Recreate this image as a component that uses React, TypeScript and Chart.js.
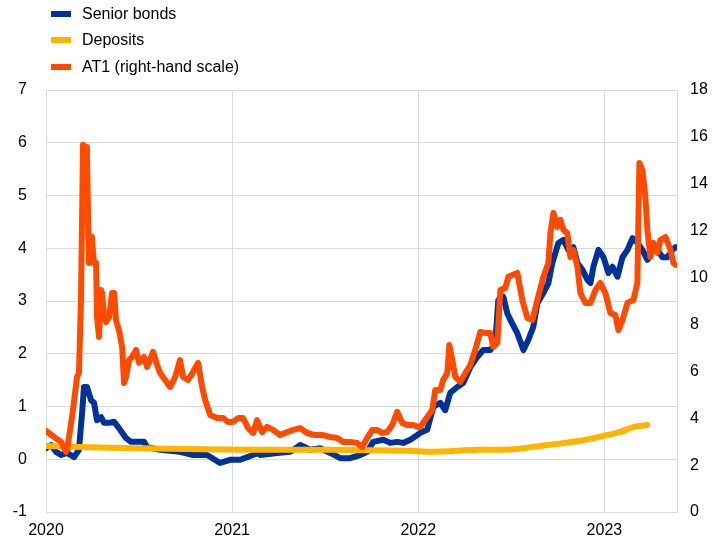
import React, { useEffect, useRef } from "react";
import { Chart, registerables } from "chart.js";

Chart.register(...registerables);

// [decimal year, value in %]
const seniorBonds: [number, number][] = [
  [2020.0, 0.21], [2020.027, 0.27], [2020.054, 0.14], [2020.081, 0.08], [2020.113, 0.12],
  [2020.151, 0.04], [2020.177, 0.18], [2020.194, 0.88], [2020.204, 1.37], [2020.22, 1.37],
  [2020.242, 1.12], [2020.258, 1.07], [2020.274, 0.74], [2020.296, 0.8], [2020.312, 0.69],
  [2020.339, 0.69], [2020.366, 0.71], [2020.392, 0.59], [2020.43, 0.4], [2020.457, 0.33],
  [2020.489, 0.33], [2020.527, 0.33], [2020.543, 0.23], [2020.613, 0.18], [2020.72, 0.14],
  [2020.79, 0.08], [2020.866, 0.08], [2020.935, -0.07], [2020.989, -0.01], [2021.043, -0.01],
  [2021.097, 0.06], [2021.14, 0.12], [2021.151, 0.08], [2021.242, 0.12], [2021.312, 0.14],
  [2021.366, 0.27], [2021.419, 0.18], [2021.473, 0.21], [2021.527, 0.12], [2021.581, 0.02],
  [2021.634, 0.02], [2021.688, 0.08], [2021.726, 0.14], [2021.758, 0.33], [2021.812, 0.37],
  [2021.849, 0.31], [2021.887, 0.33], [2021.919, 0.31], [2021.957, 0.37], [2021.995, 0.46],
  [2022.011, 0.5], [2022.048, 0.56], [2022.081, 0.99], [2022.118, 1.07], [2022.145, 0.93],
  [2022.172, 1.26], [2022.21, 1.37], [2022.242, 1.45], [2022.28, 1.75], [2022.317, 1.94],
  [2022.349, 2.07], [2022.387, 2.07], [2022.414, 2.2], [2022.43, 3.02], [2022.457, 3.08],
  [2022.478, 2.77], [2022.495, 2.64], [2022.532, 2.39], [2022.565, 2.07], [2022.591, 2.26],
  [2022.618, 2.51], [2022.64, 2.96], [2022.672, 3.15], [2022.699, 3.34], [2022.72, 3.72],
  [2022.753, 4.1], [2022.78, 4.16], [2022.806, 3.97], [2022.833, 4.02], [2022.855, 3.72],
  [2022.882, 3.59], [2022.909, 3.4], [2022.925, 3.34], [2022.941, 3.65], [2022.968, 3.97],
  [2022.995, 3.83], [2023.022, 3.53], [2023.043, 3.65], [2023.07, 3.46], [2023.097, 3.83],
  [2023.124, 3.97], [2023.151, 4.19], [2023.177, 4.1], [2023.204, 3.97], [2023.231, 3.78],
  [2023.258, 3.97], [2023.285, 3.97], [2023.312, 3.83], [2023.339, 3.83], [2023.366, 3.97],
  [2023.382, 4.02],
];

const deposits: [number, number][] = [
  [2020.0, 0.25], [2020.183, 0.23], [2020.505, 0.21], [2020.828, 0.19], [2021.097, 0.18],
  [2021.527, 0.18], [2021.957, 0.16], [2022.065, 0.14], [2022.317, 0.18], [2022.511, 0.19],
  [2022.694, 0.27], [2022.871, 0.35], [2023.016, 0.46], [2023.086, 0.52], [2023.156, 0.61],
  [2023.231, 0.65],
];

const at1: [number, number][] = [
  [2020.0, 3.46], [2020.043, 3.2], [2020.081, 2.99], [2020.108, 2.56], [2020.113, 2.65],
  [2020.14, 4.05], [2020.167, 5.76], [2020.177, 5.93], [2020.188, 9.04], [2020.199, 15.66],
  [2020.215, 15.57], [2020.22, 15.15], [2020.231, 10.62], [2020.242, 11.73], [2020.247, 11.6],
  [2020.258, 10.62], [2020.269, 10.62], [2020.274, 8.32], [2020.285, 7.47], [2020.296, 9.47],
  [2020.301, 9.34], [2020.312, 8.32], [2020.323, 8.11], [2020.339, 8.32], [2020.355, 9.34],
  [2020.366, 9.34], [2020.376, 8.19], [2020.392, 7.76], [2020.409, 7.04], [2020.419, 5.5],
  [2020.43, 5.76], [2020.446, 6.48], [2020.462, 6.61], [2020.484, 6.91], [2020.5, 6.36],
  [2020.527, 6.61], [2020.543, 6.19], [2020.559, 6.48], [2020.575, 6.83], [2020.597, 6.27],
  [2020.613, 5.93], [2020.64, 5.63], [2020.667, 5.33], [2020.694, 5.76], [2020.72, 6.48],
  [2020.737, 5.76], [2020.763, 5.63], [2020.79, 5.97], [2020.817, 6.36], [2020.839, 5.33],
  [2020.855, 4.78], [2020.882, 4.14], [2020.919, 4.01], [2020.952, 4.01], [2020.978, 3.84],
  [2021.005, 3.84], [2021.032, 4.01], [2021.059, 4.01], [2021.086, 3.58], [2021.113, 3.37],
  [2021.134, 3.92], [2021.161, 3.41], [2021.188, 3.63], [2021.22, 3.5], [2021.258, 3.28],
  [2021.296, 3.41], [2021.328, 3.5], [2021.366, 3.58], [2021.403, 3.37], [2021.446, 3.28],
  [2021.489, 3.28], [2021.527, 3.2], [2021.565, 3.16], [2021.597, 2.99], [2021.634, 2.99],
  [2021.672, 2.94], [2021.699, 2.77], [2021.726, 3.16], [2021.753, 3.5], [2021.78, 3.5],
  [2021.806, 3.37], [2021.833, 3.41], [2021.86, 3.71], [2021.887, 4.27], [2021.914, 3.8],
  [2021.941, 3.71], [2021.973, 3.71], [2022.0, 3.63], [2022.011, 3.63], [2022.048, 4.05],
  [2022.075, 4.35], [2022.091, 5.2], [2022.118, 5.2], [2022.134, 5.63], [2022.156, 5.93],
  [2022.167, 7.12], [2022.183, 6.48], [2022.199, 5.76], [2022.226, 5.55], [2022.253, 5.93],
  [2022.28, 6.27], [2022.306, 6.91], [2022.333, 7.68], [2022.36, 7.64], [2022.387, 7.64],
  [2022.403, 7.04], [2022.425, 7.21], [2022.441, 9.47], [2022.468, 9.56], [2022.484, 10.03],
  [2022.532, 10.2], [2022.559, 9.04], [2022.586, 8.28], [2022.613, 8.19], [2022.64, 9.04],
  [2022.672, 10.03], [2022.699, 10.62], [2022.71, 11.9], [2022.726, 12.76], [2022.747, 12.16],
  [2022.763, 12.46], [2022.78, 12.03], [2022.801, 11.9], [2022.817, 10.88], [2022.833, 11.18],
  [2022.855, 10.45], [2022.871, 9.34], [2022.898, 8.92], [2022.925, 8.92], [2022.952, 9.47],
  [2022.978, 9.77], [2023.005, 9.34], [2023.032, 8.49], [2023.059, 8.4], [2023.075, 7.76],
  [2023.097, 8.19], [2023.124, 8.92], [2023.156, 9.04], [2023.177, 9.77], [2023.188, 14.89],
  [2023.204, 14.59], [2023.22, 13.44], [2023.231, 12.03], [2023.247, 10.88], [2023.263, 11.48],
  [2023.285, 11.05], [2023.301, 11.6], [2023.328, 11.73], [2023.355, 11.18], [2023.371, 10.62],
  [2023.382, 10.54],
];

const yearTicks = [2020, 2021, 2022, 2023];
const xMin = 2020;
const xMax = 2023.39;

const legendItems = [
  { label: "Senior bonds", color: "#003299" },
  { label: "Deposits", color: "#FFB400" },
  { label: "AT1 (right-hand scale)", color: "#FF4B00" },
];

const FONT = "Arial, 'Liberation Sans', Helvetica, sans-serif";
const GRID = "#d9d9d9";

function toXY(arr: [number, number][]) {
  return arr.map(([x, y]) => ({ x, y }));
}

const lineStyle = {
  borderWidth: 6,
  pointRadius: 0,
  borderJoinStyle: "round" as const,
  borderCapStyle: "round" as const,
};

export default function App() {
  const ref = useRef<HTMLCanvasElement>(null);

  useEffect(() => {
    if (!ref.current) return;
    const chart = new Chart(ref.current, {
      type: "line",
      data: {
        datasets: [
          {
            label: "AT1 (right-hand scale)",
            data: toXY(at1),
            borderColor: "#FF4B00",
            backgroundColor: "#FF4B00",
            ...lineStyle,
            tension: 0,
            yAxisID: "y1",
            order: 0,
          },
          {
            label: "Deposits",
            data: toXY(deposits),
            borderColor: "#FFB400",
            backgroundColor: "#FFB400",
            ...lineStyle,
            tension: 0.3,
            yAxisID: "y",
            order: 1,
          },
          {
            label: "Senior bonds",
            data: toXY(seniorBonds),
            borderColor: "#003299",
            backgroundColor: "#003299",
            ...lineStyle,
            tension: 0,
            yAxisID: "y",
            order: 2,
          },
        ],
      },
      options: {
        animation: false,
        responsive: false,
        maintainAspectRatio: false,
        layout: { padding: { top: 90, left: 0, right: 0, bottom: 0 } },
        plugins: { legend: { display: false }, tooltip: { enabled: false } },
        scales: {
          x: {
            type: "linear",
            min: xMin,
            max: xMax,
            afterBuildTicks: (s: any) => {
              s.ticks = yearTicks.map((v) => ({ value: v }));
            },
            afterFit: (s: any) => {
              s.height = 34;
            },
            grid: { color: GRID, lineWidth: 1, drawTicks: false },
            border: { color: GRID, width: 1 },
            ticks: {
              color: "#000",
              font: { family: FONT, size: 16 },
              padding: 9,
              maxRotation: 0,
              autoSkip: false,
              callback: (v: any) => String(v),
            },
          },
          y: {
            type: "linear",
            position: "left",
            min: -1,
            max: 7,
            afterFit: (s: any) => {
              s.width = 46;
            },
            grid: { color: GRID, lineWidth: 1, drawTicks: false },
            border: { color: GRID, width: 1 },
            ticks: {
              stepSize: 1,
              color: "#000",
              font: { family: FONT, size: 16 },
              padding: 19,
            },
          },
          y1: {
            type: "linear",
            position: "right",
            min: 0,
            max: 18,
            afterFit: (s: any) => {
              s.width = 44;
            },
            grid: { display: false, drawTicks: false },
            border: { color: GRID, width: 1 },
            ticks: {
              stepSize: 2,
              color: "#000",
              font: { family: FONT, size: 16 },
              padding: 13,
            },
          },
        },
      },
    });
    return () => chart.destroy();
  }, []);

  return (
    <div style={{ position: "fixed", left: 0, top: 0, width: 721, height: 546, background: "#fff" }}>
      <canvas ref={ref} width={721} height={546} style={{ position: "absolute", left: 0, top: 0 }} />
      {legendItems.map((it, i) => (
        <div
          key={it.label}
          style={{
            position: "absolute",
            left: 51,
            top: 3.5 + i * 26.5,
            height: 20,
            display: "flex",
            alignItems: "center",
            fontFamily: FONT,
            fontSize: 16,
            color: "#000",
            whiteSpace: "nowrap",
          }}
        >
          <span style={{ display: "inline-block", width: 20, height: 6, background: it.color, marginRight: 11 }} />
          <span>{it.label}</span>
        </div>
      ))}
    </div>
  );
}
